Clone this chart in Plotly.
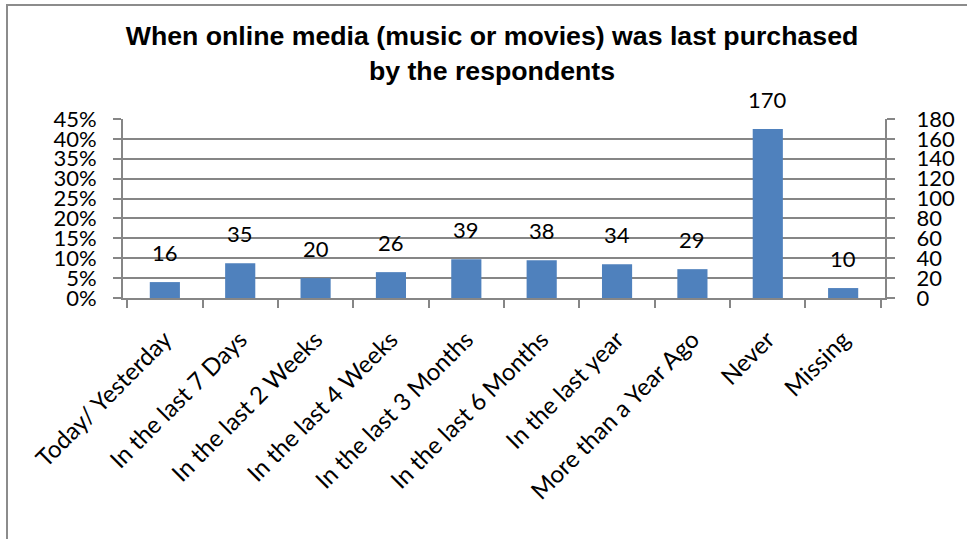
import plotly.graph_objects as go

# Survey responses: when online media was last purchased
categories = [
    "Today/ Yesterday", "In the last 7 Days", "In the last 2 Weeks",
    "In the last 4 Weeks", "In the last 3 Months", "In the last 6 Months",
    "In the last year", "More than a Year Ago", "Never", "Missing",
]
counts = [16, 35, 20, 26, 39, 38, 34, 29, 170, 10]

# Axis tick labels
pct_ticks = [0, 0.05, 0.10, 0.15, 0.20, 0.25, 0.30, 0.35, 0.40, 0.45]
count_ticks = [0, 20, 40, 60, 80, 100, 120, 140, 160, 180]

W, H = 967, 539
ML, MR, MT, MB = 123, 82, 119, 241
GRID = "#868686"
BAR = "#4F81BD"
FONT = "Lato, 'Open Sans', sans-serif"

fig = go.Figure()

# Counts are plotted against the right-hand axis
fig.add_trace(go.Bar(
    x=categories, y=counts, yaxis="y2",
    marker=dict(color=BAR, line=dict(width=0)),
    width=0.4, showlegend=False, hoverinfo="x+y",
))

# Empty trace keeps the left percentage axis on the subplot
fig.add_trace(go.Scatter(
    x=categories, y=[None] * len(categories), yaxis="y",
    mode="markers", showlegend=False, hoverinfo="skip",
))

# Value labels above each bar
for c, v in zip(categories, counts):
    fig.add_annotation(
        x=c, y=v, xref="x", yref="y2", text=str(v),
        showarrow=False, yanchor="bottom", yshift=14,
        font=dict(family=FONT, size=22, color="#000000"),
    )

# Outer chart frame
pw, ph = W - ML - MR, H - MT - MB
fig.add_shape(
    type="rect", xref="paper", yref="paper",
    x0=(7 - ML) / pw, x1=(W + 10 - ML) / pw,
    y0=-(H + 10 - (H - MB)) / ph, y1=(H - MB - 5) / ph,
    line=dict(color="#8c8c8c", width=2), fillcolor="rgba(0,0,0,0)",
    layer="below",
)

fig.update_layout(
    width=W, height=H,
    margin=dict(l=ML, r=MR, t=MT, b=MB, autoexpand=False),
    paper_bgcolor="white", plot_bgcolor="white",
    bargap=0.6,
    title=dict(
        text="When online media (music or movies) was last purchased<br>by the respondents",
        x=492 / W, xanchor="center", xref="container",
        y=1 - 45 / H, yanchor="top", yref="container",
        font=dict(family="'Liberation Sans', Arial, sans-serif", size=26.7, color="#000000", weight="bold"),
    ),
    xaxis=dict(
        type="category",
        showline=True, linecolor=GRID, linewidth=2,
        ticks="outside", tickson="boundaries", ticklen=8, tickcolor=GRID, tickwidth=2,
        tickangle=-45, ticklabelstandoff=16,
        tickfont=dict(family=FONT, size=24, color="#000000"),
        showgrid=False, zeroline=False,
    ),
    yaxis=dict(
        range=[0, 0.45], tickvals=pct_ticks, tickformat=".0%",
        showline=True, linecolor=GRID, linewidth=2,
        ticks="outside", ticklen=8, tickcolor=GRID, tickwidth=2,
        ticklabelstandoff=12,
        showgrid=True, gridcolor=GRID, gridwidth=2,
        zeroline=False,
        tickfont=dict(family=FONT, size=22, color="#000000"),
        fixedrange=True,
    ),
    yaxis2=dict(
        range=[0, 180], tickvals=count_ticks,
        overlaying="y", side="right",
        showline=True, linecolor=GRID, linewidth=2,
        ticks="outside", ticklen=8, tickcolor=GRID, tickwidth=2,
        ticklabelstandoff=17,
        showgrid=False, zeroline=False,
        tickfont=dict(family=FONT, size=22, color="#000000"),
        fixedrange=True,
    ),
)

fig.write_html("out.html")
